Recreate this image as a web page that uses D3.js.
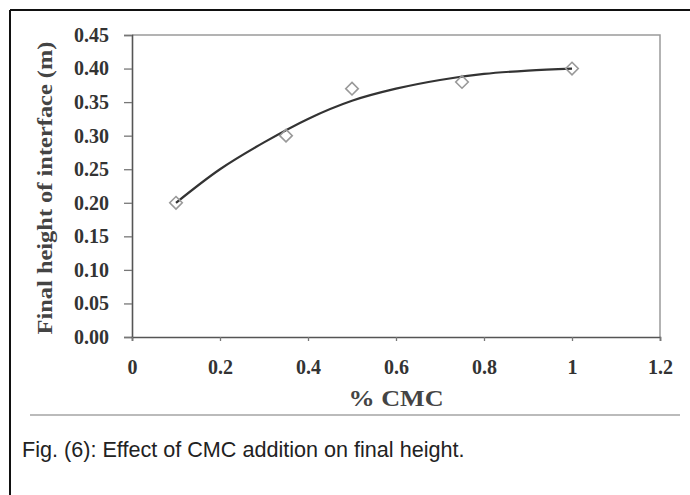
<!DOCTYPE html>
<html><head><meta charset="utf-8">
<script src="https://cdn.jsdelivr.net/npm/d3@7"></script>
<style>body{margin:0;background:#fff}svg{display:block}</style>
</head><body>
<svg id="c" width="690" height="495"></svg>
<script>
const cmc = [0.1, 0.35, 0.5, 0.75, 1.0];
const height = [0.20, 0.30, 0.37, 0.38, 0.40];
const trendX = [0.1, 0.2, 0.3, 0.4, 0.5, 0.6, 0.7, 0.8, 0.9, 1.0];
const trendY = [0.200, 0.250, 0.290, 0.325, 0.352, 0.370, 0.383, 0.392, 0.397, 0.400];
const xTicks = [0, 0.2, 0.4, 0.6, 0.8, 1, 1.2];
const yTicks = [0, 0.05, 0.10, 0.15, 0.20, 0.25, 0.30, 0.35, 0.40, 0.45];

const svg = d3.select("#c");
const L = 132, R = 660, T = 35, B = 337;
const x = d3.scaleLinear().domain([0, 1.2]).range([L, R]);
const y = d3.scaleLinear().domain([0, 0.45]).range([B, T]);

// outer frame
svg.append("line").attr("x1",10).attr("y1",10).attr("x2",690).attr("y2",10).attr("stroke","#111").attr("stroke-width",2);
svg.append("line").attr("x1",10).attr("y1",10).attr("x2",10).attr("y2",495).attr("stroke","#111").attr("stroke-width",2);

// plot frame top/right
svg.append("path").attr("d",`M${L},${T}H${R}V${B}`).attr("fill","none").attr("stroke","#9a9a9a").attr("stroke-width",1.5);

const serif = "'Liberation Serif','Times New Roman',serif";

const yAx = svg.append("g").attr("transform",`translate(${L},0)`)
  .call(d3.axisLeft(y).tickValues(yTicks).tickFormat(d3.format(".2f")).tickSize(8).tickPadding(15));
const xAx = svg.append("g").attr("transform",`translate(0,${B})`)
  .call(d3.axisBottom(x).tickValues(xTicks).tickFormat(d => d3.format("")(d)).tickSize(4).tickPadding(19));
[yAx, xAx].forEach(g => {
  g.select(".domain").attr("stroke","#555").attr("stroke-width",1.6);
  g.selectAll(".tick line").attr("stroke","#777").attr("stroke-width",1.3);
  g.selectAll("text").attr("font-family",serif).attr("font-weight","bold").attr("font-size",20).attr("fill","#333");
});

// trend curve
svg.append("path")
  .datum(trendX.map((v,i)=>[v,trendY[i]]))
  .attr("d", d3.line().x(d=>x(d[0])).y(d=>y(d[1])).curve(d3.curveCatmullRom))
  .attr("fill","none").attr("stroke","#333").attr("stroke-width",2.2);

// markers
svg.append("g").selectAll("path").data(cmc.map((v,i)=>[v,height[i]])).join("path")
  .attr("d", d3.symbol().type(d3.symbolDiamond2).size(100))
  .attr("transform", d=>`translate(${x(d[0])},${y(d[1])})`)
  .attr("fill","none").attr("stroke","#999").attr("stroke-width",1.6);

// axis titles
svg.append("text").attr("x",396).attr("y",406).attr("text-anchor","middle")
  .attr("font-family",serif).attr("font-weight","bold").attr("font-size",24).attr("fill","#444")
  .attr("textLength",95).attr("lengthAdjust","spacingAndGlyphs")
  .text("% CMC");
svg.append("text").attr("transform","translate(52,188) rotate(-90)").attr("text-anchor","middle")
  .attr("font-family",serif).attr("font-weight","bold").attr("font-size",21).attr("fill","#444")
  .attr("textLength",293).attr("lengthAdjust","spacingAndGlyphs")
  .text("Final height of interface (m)");

// separator and caption
svg.append("line").attr("x1",30).attr("x2",680).attr("y1",415).attr("y2",415).attr("stroke","#bbb").attr("stroke-width",2);
svg.append("text").attr("x",22).attr("y",457)
  .attr("font-family","'Liberation Sans',Arial,sans-serif").attr("font-size",21.6).attr("fill","#222")
  .text("Fig. (6): Effect of CMC addition on final height.");
</script>
</body></html>
